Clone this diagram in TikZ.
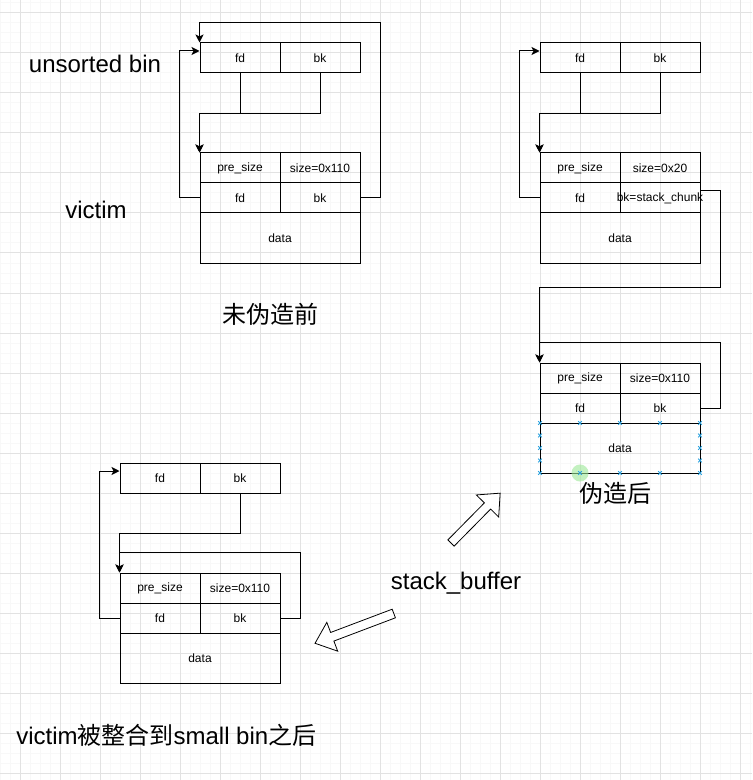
\documentclass[tikz,border=0pt]{standalone}
\usepackage{fontspec}
\setmainfont{Liberation Sans}
\newfontfamily\cjk{Noto Sans CJK SC}
\usetikzlibrary{arrows.meta,plotmarks}
\definecolor{gridmajor}{HTML}{E2E2E2}
\definecolor{gridminor}{HTML}{F8F8F8}
\definecolor{handlecol}{HTML}{2BA3E0}
\definecolor{hovercol}{HTML}{9CE896}

\begin{document}
\begin{tikzpicture}[
  x=0.75pt, y=-0.75pt, >={Stealth[length=6pt,width=6pt,inset=1.5pt]},
  cell/.style={draw, line width=0.75pt, minimum width=60pt, minimum height=22.5pt,
    inner sep=0pt, font=\fontsize{9}{10}\selectfont},
  datacell/.style={cell, minimum width=120pt, minimum height=37.5pt},
  link/.style={->, line width=0.75pt},
  big/.style={font=\fontsize{18}{21}\selectfont, inner sep=0pt},
  hollow/.style={draw, line width=0.6pt, fill=white, line join=miter},
  handle/.style={handlecol, line width=0.7pt}]

\useasboundingbox (0,0) rectangle (752,780);

% ================================================================ grid
\fill[white] (0,0) rectangle (752,780);
\foreach \gx in {0,10,...,750} \draw[gridminor, line width=0.75pt] (\gx,0) -- (\gx,780);
\foreach \gy in {3,13,...,773} \draw[gridminor, line width=0.75pt] (0,\gy) -- (752,\gy);
\foreach \gx in {20,60,...,740} \draw[gridmajor, line width=0.75pt] (\gx,0) -- (\gx,780);
\foreach \gy in {13,53,...,773} \draw[gridmajor, line width=0.75pt] (0,\gy) -- (752,\gy);

% ================================================================ before forging
\node[cell] (ubinfd) at (240,58) {fd};
\node[cell] (ubinbk) at (320,58) {bk};
\node[cell] (vpre)  at (240,168) {pre\_size};
\node[cell] (vsize) at (320,168) {size=0x110};
\node[cell] (vfd)   at (240,198) {fd};
\node[cell] (vbk)   at (320,198) {bk};
\node[datacell] (vdata) at (280,238) {data};

\draw[link] (ubinfd.south) -- ++(0,40) -| (vpre.north west);
\draw[link] (ubinbk.south) -- ++(0,40) -| (vpre.north west);
\draw[link] (vfd.west) -- ++(-20,0) |- ([yshift=5.25pt]ubinfd.west);
\draw[link] (vbk.east) -- ++(20,0) |- ([yshift=15pt]ubinfd.north west) -- (ubinfd.north west);

\node[big] (lunsorted) at (95,64) {unsorted bin};
\node[big] (lvictim) at (96,210) {victim};
\node[big] (lbefore) at (270,314) {\cjk 未伪造前};

% ================================================================ after forging
\node[cell] (rbinfd) at (580,58) {fd};
\node[cell] (rbinbk) at (660,58) {bk};
\node[cell] (rpre)  at (580,168) {pre\_size};
\node[cell] (rsize) at (660,168) {size=0x20};
\node[cell] (rfd)   at (580,198) {fd};
\node[cell] (rbk)   at (660,198) {\makebox[0pt]{bk=stack\_chunk}};
\node[datacell] (rdata) at (620,238) {data};

% the fake chunk on the stack
\node[cell] (spre)  at (580,378) {pre\_size};
\node[cell] (ssize) at (660,378) {size=0x110};
\node[cell] (sfd)   at (580,408) {fd};
\node[cell] (sbk)   at (660,408) {bk};
\node[datacell] (sdata) at (620,448) {data};

\draw[link] (rbinfd.south) -- ++(0,40) -| (rpre.north west);
\draw[link] (rbinbk.south) -- ++(0,40) -| (rpre.north west);
\draw[link] (rfd.west) -- ++(-20,0) |- ([yshift=5.25pt]rbinfd.west);
\draw[link] ([yshift=5.25pt]rbk.east) -- ++(20,0) |- ([yshift=56.25pt]spre.north west) -- (spre.north west);
\draw[link] (sbk.east) -- ++(20,0) |- ([yshift=15pt]spre.north west) -- (spre.north west);

\fill[hovercol, opacity=0.6] (580,473) circle (6.4pt);
\draw[handle] plot[only marks, mark=x, mark size=1.9pt] coordinates {
  (540,423) (580,423) (620,423) (660,423) (700,423)
  (540,473) (580,473) (620,473) (660,473) (700,473)
  (540,435.5) (540,448) (540,460.5) (700,435.5) (700,448) (700,460.5)};

\node[big] (lafter) at (615,493) {\cjk 伪造后};

% ================================================================ merged into small bin
\node[cell] (bbinfd) at (160,478) {fd};
\node[cell] (bbinbk) at (240,478) {bk};
\node[cell] (bpre)  at (160,588) {pre\_size};
\node[cell] (bsize) at (240,588) {size=0x110};
\node[cell] (bfd)   at (160,618) {fd};
\node[cell] (bbk)   at (240,618) {bk};
\node[datacell] (bdata) at (200,658) {data};

\draw[link] (bbinbk.south) -- ++(0,40) -| (bpre.north west);
\draw[link] (bfd.west) -- ++(-20,0) |- ([yshift=5.25pt]bbinfd.west);
\draw[link] (bbk.east) -- ++(20,0) |- ([yshift=15pt]bpre.north west) -- (bpre.north west);

\node[big, anchor=west] (lmerged) at (16,735) {victim{\cjk 被整合到}small bin{\cjk 之后}};

% ================================================================ stack buffer and the two block arrows
\node[big] (lstack) at (456,583) {stack\_buffer};
\draw[hollow, shift={(451,543)}, rotate=45.4]
  (0,-4.4) -- (52,-4.4) -- (52,-15.7) -- (70,0) -- (52,15.7) -- (52,4.4) -- (0,4.4) -- cycle;
\draw[hollow, shift={(393.8,613.5)}, rotate=200.7]
  (0,-4.6) -- (65.8,-4.6) -- (65.8,-15.4) -- (84.2,0) -- (65.8,15.4) -- (65.8,4.6) -- (0,4.6) -- cycle;

\end{tikzpicture}
\end{document}
